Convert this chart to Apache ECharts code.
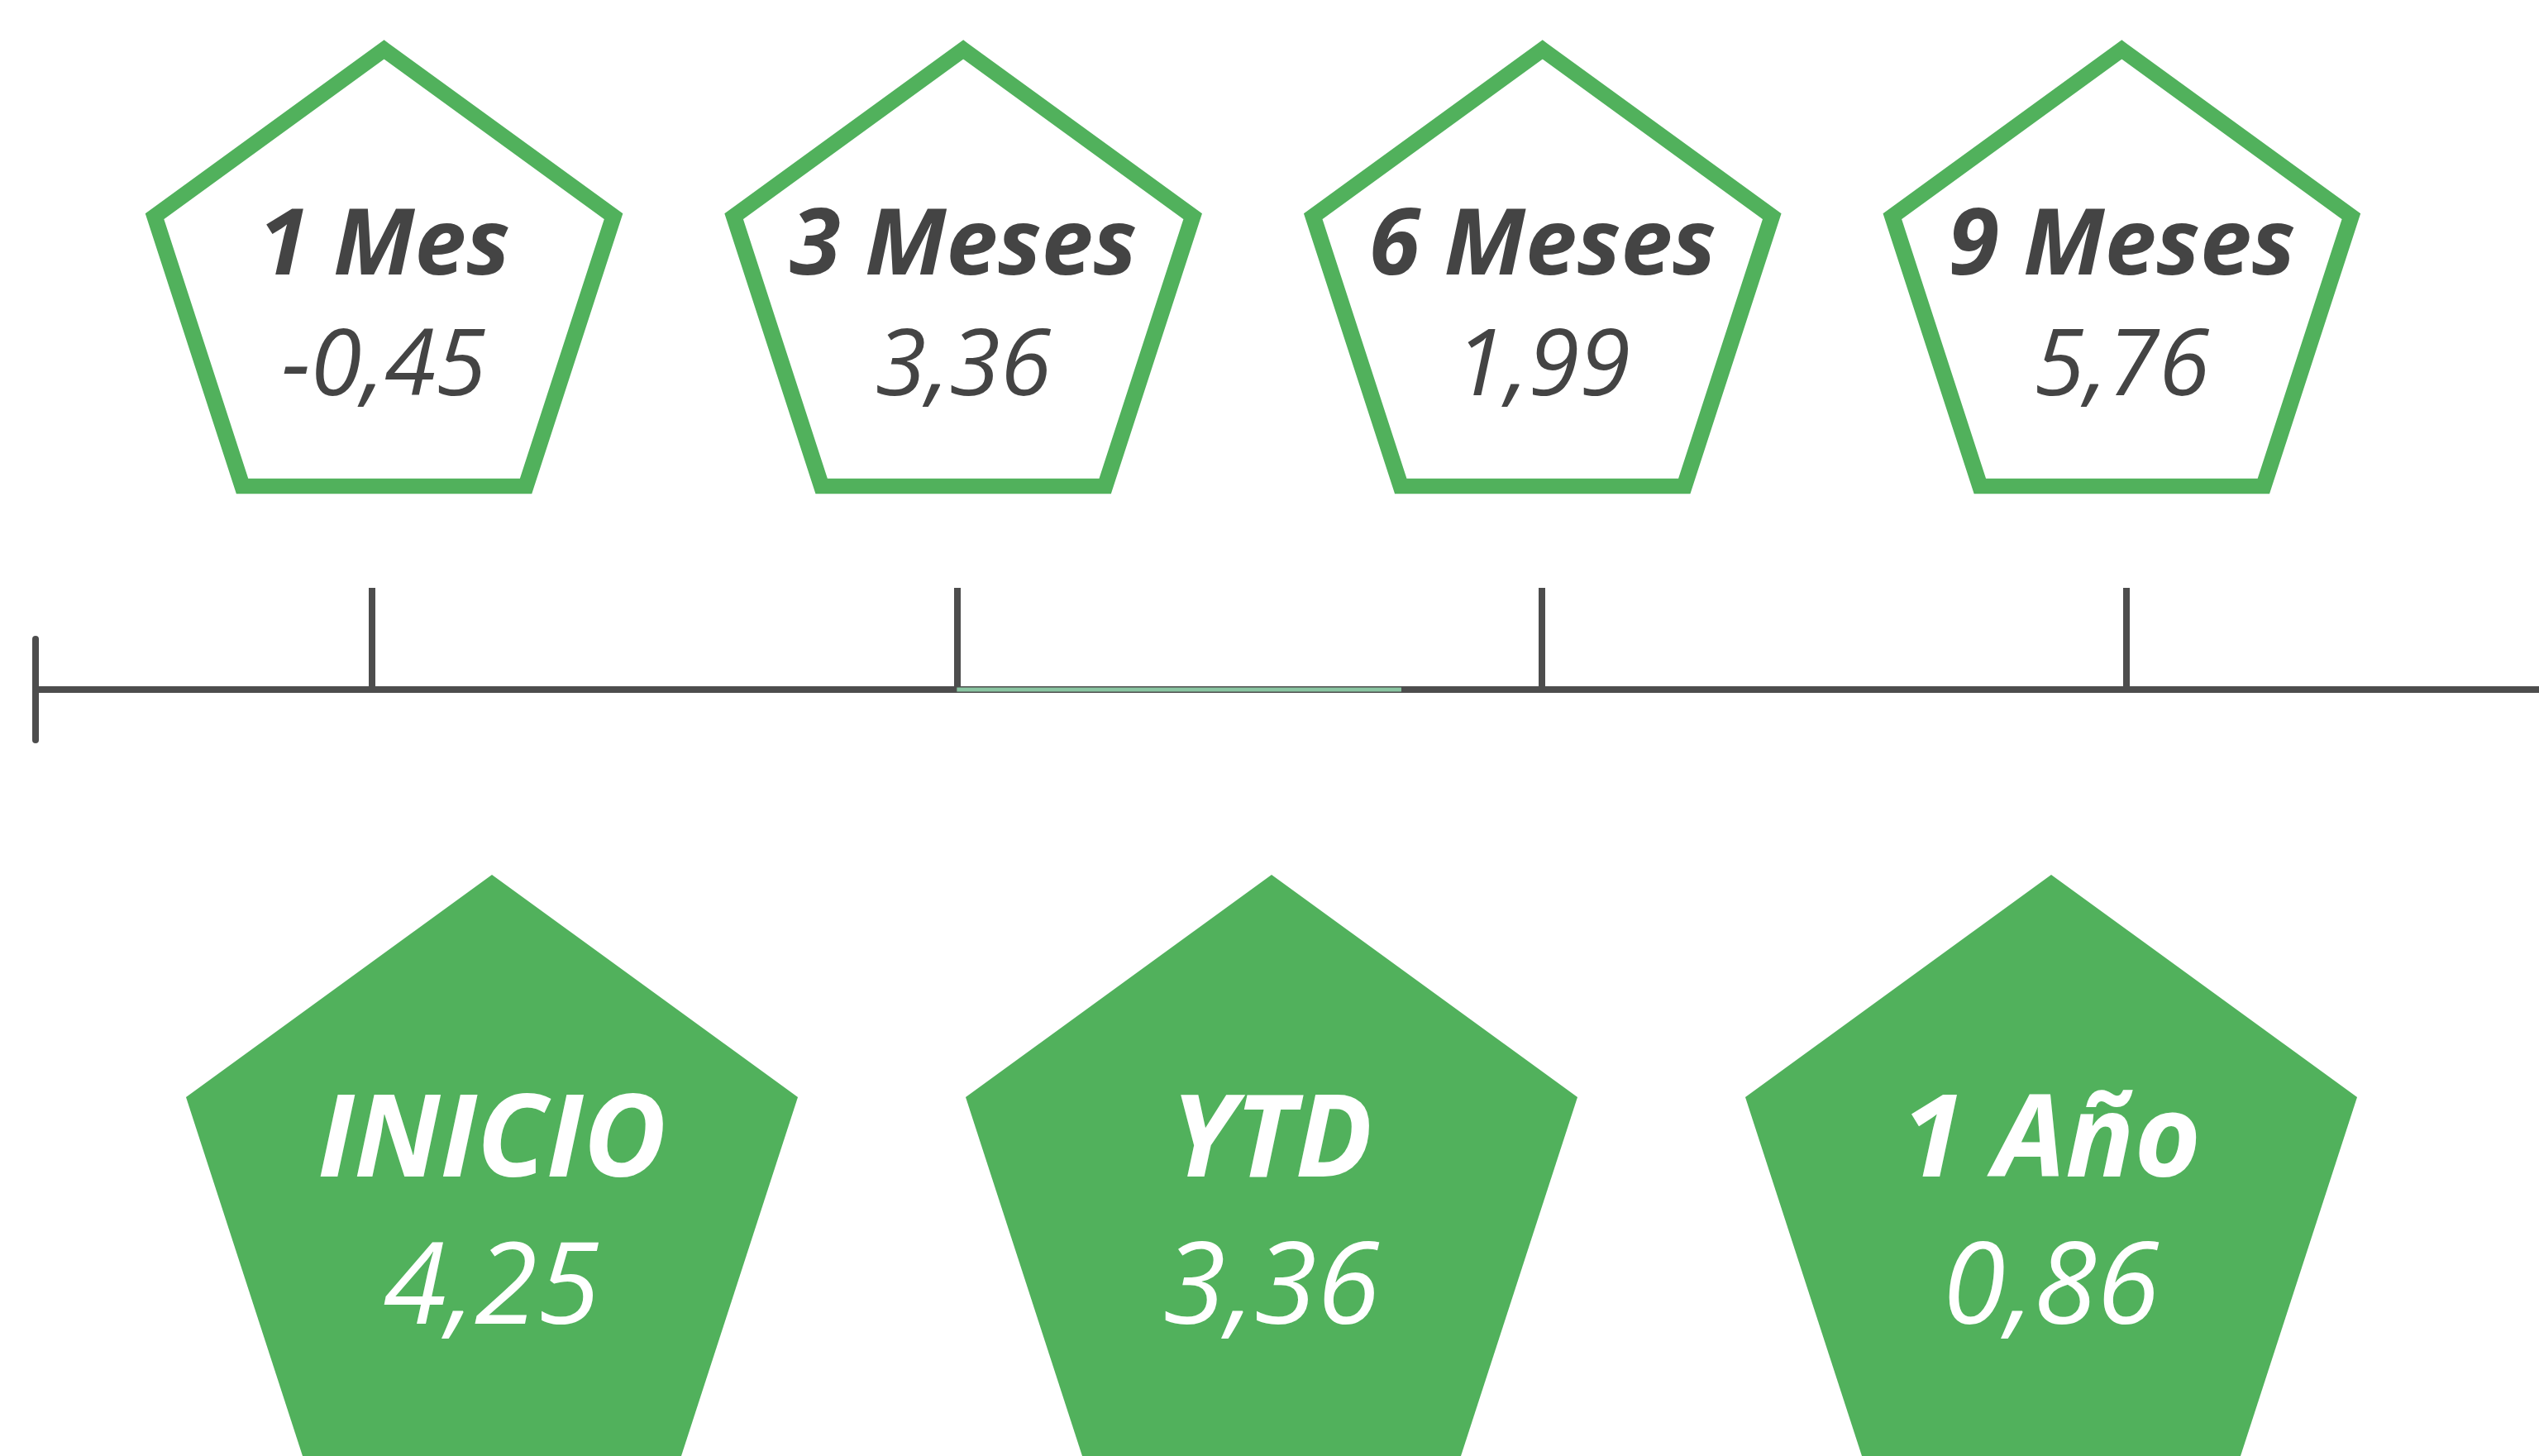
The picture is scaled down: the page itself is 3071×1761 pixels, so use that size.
<!DOCTYPE html>
<html>
<head>
<meta charset="utf-8">
<script src="https://cdn.jsdelivr.net/npm/echarts@6/dist/echarts.min.js"></script>
<style>
  html, body { margin: 0; padding: 0; background: #fff; }
  #main { width: 3071px; height: 1761px; }
</style>
</head>
<body>
<div id="main"></div>
<script>
// datos
var topPeriods = ['1 Mes', '3 Meses', '6 Meses', '9 Meses'];
var topReturns = [-0.45, 3.36, 1.99, 5.76];
var bottomPeriods = ['INICIO', 'YTD', '1 Año'];
var bottomReturns = [4.25, 3.36, 0.86];
var timelineTicks = [0, 1, 2, 3];
var ytdRange = [1, 1.76];

var green = '#51b15c';
var dark = '#444444';
var lineColor = '#4d4d4d';

// pentagono regular, vertice arriba
var pentagon = 'path://M95.11,0 L190.22,69.1 L153.89,180.9 L36.33,180.9 L0,69.1 Z';

function fmt(v) {
    return v.toFixed(2).replace('.', ',');
}

var myChart = echarts.init(document.getElementById('main'));

var option = {
    animation: false,
    backgroundColor: '#ffffff',
    grid: [
        { left: 43, right: 0, top: 773, height: 122 },   // linea de tiempo
        { left: 43, right: 0, top: 0, height: 648 },     // pentagonos de arriba
        { left: 123.5, right: 118.5, top: 1059, bottom: 0 } // pentagonos de abajo
    ],
    xAxis: [
        {
            gridIndex: 0, type: 'value', min: -0.5753, max: 3.7052,
            axisLine: { show: true, onZero: true, lineStyle: { color: lineColor, width: 8 } },
            axisTick: { show: true, inside: true, length: 123, customValues: timelineTicks,
                lineStyle: { color: lineColor, width: 8 } },
            axisLabel: { show: false },
            splitLine: { show: false }
        },
        {
            gridIndex: 1, type: 'value', min: -0.6017, max: 3.7203, show: false
        },
        {
            gridIndex: 2, type: 'category', data: bottomPeriods, show: false
        }
    ],
    yAxis: [
        {
            gridIndex: 0, type: 'value', min: -1, max: 1,
            axisLine: { show: true, onZero: false, lineStyle: { color: lineColor, width: 8 } },
            axisTick: { show: false },
            axisLabel: { show: false },
            splitLine: { show: false }
        },
        { gridIndex: 1, type: 'value', min: -1, max: 1, show: false },
        { gridIndex: 2, type: 'value', min: -1, max: 1, show: false }
    ],
    series: [
        {
            name: 'YTD',
            type: 'line',
            xAxisIndex: 0, yAxisIndex: 0,
            data: ytdRange.map(function (x) { return [x, 0]; }),
            symbol: 'none',
            lineStyle: { color: '#8ac6a2', width: 5 },
            z: 5
        },
        {
            type: 'scatter',
            xAxisIndex: 1, yAxisIndex: 1,
            symbol: pentagon,
            symbolSize: [555, 528],
            itemStyle: { color: '#ffffff', opacity: 1, borderColor: green, borderWidth: 19, borderJoin: 'miter', borderMiterLimit: 10 },
            data: topPeriods.map(function (n, i) {
                return { name: n, value: [timelineTicks[i], 0], ret: topReturns[i] };
            }),
            label: {
                show: true,
                position: 'inside',
                offset: [0, 49],
                formatter: function (p) {
                    return '{n|' + p.name + '}\n{v|' + fmt(p.data.ret) + '}';
                },
                rich: {
                    n: { fontFamily: 'Open Sans', fontSize: 112, fontWeight: 'bold', fontStyle: 'italic', color: dark, lineHeight: 146, align: 'center' },
                    v: { fontFamily: 'Open Sans', fontSize: 112, fontWeight: 'normal', fontStyle: 'italic', color: dark, lineHeight: 146, align: 'center' }
                }
            }
        },
        {
            type: 'scatter',
            xAxisIndex: 2, yAxisIndex: 2,
            symbol: pentagon,
            symbolSize: [740, 704],
            itemStyle: { color: green, opacity: 1 },
            data: bottomPeriods.map(function (n, i) {
                return { name: n, value: [i, 0], ret: bottomReturns[i] };
            }),
            label: {
                show: true,
                position: 'inside',
                offset: [0, 63],
                formatter: function (p) {
                    return '{n|' + p.name + '}\n{v|' + fmt(p.data.ret) + '}';
                },
                rich: {
                    n: { fontFamily: 'Open Sans', fontSize: 138, fontWeight: 'bold', fontStyle: 'italic', color: '#ffffff', lineHeight: 178, align: 'center' },
                    v: { fontFamily: 'Open Sans', fontSize: 138, fontWeight: 'normal', fontStyle: 'italic', color: '#ffffff', lineHeight: 178, align: 'center' }
                }
            }
        }
    ]
};

myChart.setOption(option);
</script>
</body>
</html>
